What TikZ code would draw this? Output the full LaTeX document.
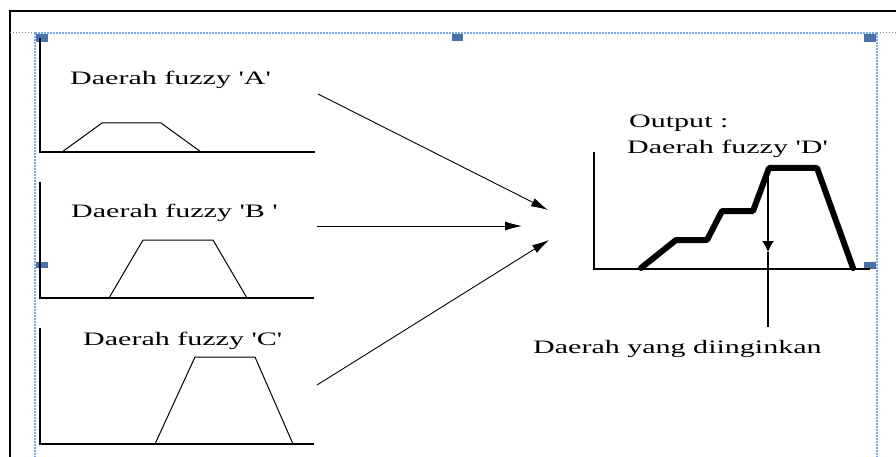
\documentclass[tikz,border=0pt]{standalone}
\usepackage{fontspec}
\setmainfont{Liberation Serif}
\usepackage{graphicx}
\usetikzlibrary{arrows.meta}
\definecolor{selblue}{HTML}{7AAAEE}
\definecolor{handleblue}{HTML}{4A72A8}
\newcommand\sq{\textquotesingle}
\newcommand\wtxt[1]{\scalebox{1.58}[1]{#1}}
\tikzset{
  lbl/.style={anchor=base west, inner sep=0pt, font=\fontsize{19}{22}\selectfont},
  axisline/.style={line width=1.6pt},
  thinline/.style={line width=1pt},
  thickline/.style={line width=6pt, line cap=round, line join=round},
  conn/.style={line width=0.9pt, -{Latex[length=17pt,width=9pt]}},
  downarrow/.style={line width=1.2pt, -{Latex[length=11pt,width=12pt]}},
  handle/.style={fill=handleblue, draw=none},
  sel/.style={draw=selblue, line width=1.4pt, dash pattern=on 2pt off 1pt},
  frameline/.style={line width=1.8pt},
}
\begin{document}
\begin{tikzpicture}[x=1pt,y=-1pt]
\useasboundingbox (0,0) rectangle (896,457);
\fill[white] (0,0) rectangle (896,457);
% outer frame and selection
\draw[frameline] (10,457) -- (10,11) -- (896,11);
\draw[gray, line width=1pt, dotted] (10,33) -- (35,33);
\draw[gray, line width=1pt, dotted] (877,33) -- (896,33);
\draw[sel] (35,33) -- (877,33);
\draw[sel] (35,33) -- (35,457);
\draw[sel] (877,33) -- (877,457);
\fill[handle] (36,34) rectangle (48,42);
\fill[handle] (452,34) rectangle (463,41);
\fill[handle] (864,34) rectangle (876,42);
\fill[handle] (36,262) rectangle (48,268);
\fill[handle] (864,262) rectangle (876,269);
% chart A
\draw[axisline] (40,38) -- (40,152) -- (315,152);
\draw[thinline] (62,152) -- (102,123) -- (161,123) -- (201,152);
\node[lbl] (ta) at (70,85) {\wtxt{Daerah fuzzy \sq A\sq}};
% chart B
\draw[axisline] (40,182) -- (40,298) -- (314,298);
\draw[thinline] (109,298) -- (143,240) -- (213,240) -- (247,298);
\node[lbl] (tb) at (71,217) {\wtxt{Daerah fuzzy \sq B \sq}};
% chart C
\draw[axisline] (40,328) -- (40,444) -- (314,444);
\draw[thinline] (155,444) -- (195,357) -- (255,357) -- (293,444);
\node[lbl] (tc) at (83,345) {\wtxt{Daerah fuzzy \sq C\sq}};
% output chart D
\draw[line width=1.2pt] (594,152) -- (594,269) -- (870,269);
\draw[thickline] (641,268) -- (676,240) -- (707,240) -- (722,211) -- (753,211) -- (769,168) -- (817,168) -- (853,268);
\node[lbl] (tout) at (629,128) {\wtxt{Output :}};
\node[lbl] (td) at (627,154) {\wtxt{Daerah fuzzy \sq D\sq}};
% desired region
\node[lbl] (ty) at (533,353) {\wtxt{Daerah yang diinginkan}};
\coordinate (vtop) at (768,168);
\coordinate (vmid) at (768,252);
\coordinate (vbot) at (768,327);
\draw[downarrow] (vtop) -- (vmid);
\draw[line width=1.2pt] (vmid) -- (vbot);
% arrows
\coordinate (a1s) at (318,94);
\coordinate (a1e) at (548,210);
\coordinate (a2s) at (317,226);
\coordinate (a2e) at (522,226);
\coordinate (a3s) at (317,385);
\coordinate (a3e) at (549,240);
\draw[conn] (a1s) -- (a1e);
\draw[conn] (a2s) -- (a2e);
\draw[conn] (a3s) -- (a3e);
\end{tikzpicture}
\end{document}
